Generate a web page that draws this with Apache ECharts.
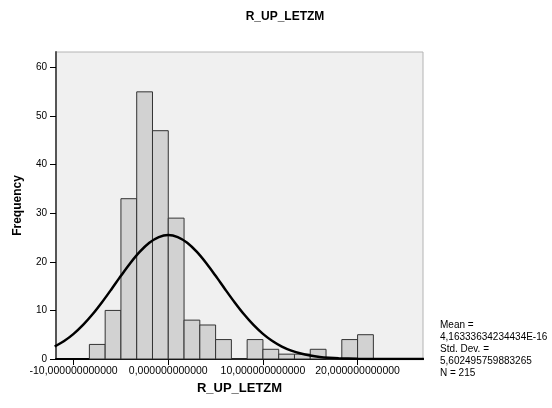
<!DOCTYPE html>
<html>
<head>
<meta charset="utf-8">
<script src="https://cdn.jsdelivr.net/npm/echarts@6/dist/echarts.min.js"></script>
<style>html,body{margin:0;padding:0;background:#fff;}#c{width:552px;height:408px;}</style>
</head>
<body>
<div id="c"></div>
<script>
// Histogram bin edges (left edge of each bin) and bin right edges
var binStarts = [-8.333, -6.667, -5, -3.333, -1.667, 0, 1.667, 3.333, 5, 6.667, 8.333, 10, 11.667, 13.333, 15, 16.667, 18.333, 20];
var binEnds   = [-6.667, -5, -3.333, -1.667, 0, 1.667, 3.333, 5, 6.667, 8.333, 10, 11.667, 13.333, 15, 16.667, 18.333, 20, 21.667];
var counts    = [3, 10, 33, 55, 47, 29, 8, 7, 4, 0, 4, 2, 1, 1, 2, 0, 4, 5];

// Normal curve
var curveX = [-12, -11, -10, -9, -8, -7, -6, -5, -4, -3, -2, -1, 0, 1, 2, 3, 4, 5, 6, 7, 8, 9, 10, 11, 12, 13, 14, 15, 16, 17, 18, 20, 22, 24, 27];
var curveY = [2.57, 3.71, 5.18, 7.02, 9.20, 11.69, 14.37, 17.12, 19.76, 22.09, 23.93, 25.10, 25.52, 25.10, 23.93, 22.09, 19.76, 17.12, 14.37, 11.69, 9.20, 7.02, 5.18, 3.71, 2.57, 1.73, 1.12, 0.71, 0.43, 0.26, 0.15, 0.04, 0.01, 0, 0];

var xTickValues = [-10, 0, 10, 20];
var xTickLabels = ['-10,000000000000', '0,000000000000', '10,000000000000', '20,000000000000'];
var yTickValues = [0, 10, 20, 30, 40, 50, 60];
var yTickLabels = ['0', '10', '20', '30', '40', '50', '60'];

var statsLines = ['Mean =', '4,16333634234434E-16', 'Std. Dev. =', '5,602495759883265', 'N = 215'];

var chart = echarts.init(document.getElementById('c'));

var histData = binStarts.map(function (s, i) { return [s, binEnds[i], counts[i]]; });
var curveData = curveX.map(function (x, i) { return [x, curveY[i]]; });

var FONT = 'Liberation Sans, Arial, sans-serif';

chart.setOption({
  backgroundColor: '#ffffff',
  animation: false,
  title: {
    text: 'R_UP_LETZM',
    left: 280, top: 6, textAlign: 'center',
    textStyle: { fontFamily: FONT, fontSize: 12, fontWeight: 'bold', color: '#000' }
  },
  grid: {
    left: 56, top: 52, right: 129, bottom: 49,
    show: true, backgroundColor: '#f0f0f0', borderColor: '#b4b4b4', borderWidth: 1
  },
  xAxis: {
    type: 'value', min: -11.86, max: 26.91,
    name: 'R_UP_LETZM', nameLocation: 'middle', nameGap: 15,
    nameTextStyle: { fontFamily: FONT, fontSize: 13, fontWeight: 'bold', color: '#000' },
    axisLine: { show: true, onZero: false, lineStyle: { color: '#000', width: 2 } },
    axisTick: { show: true, customValues: xTickValues, length: 6, lineStyle: { color: '#000', width: 1 } },
    axisLabel: {
      customValues: xTickValues, fontFamily: FONT, fontSize: 10.5, color: '#000', margin: 7,
      formatter: function (v) { var i = xTickValues.indexOf(v); return i >= 0 ? xTickLabels[i] : ''; }
    },
    splitLine: { show: false }
  },
  yAxis: {
    type: 'value', min: 0, max: 63.2,
    name: 'Frequency', nameLocation: 'middle', nameGap: 32, nameRotate: 90,
    nameTextStyle: { fontFamily: FONT, fontSize: 12, fontWeight: 'bold', color: '#000' },
    axisLine: { show: true, onZero: false, lineStyle: { color: '#555', width: 2 } },
    axisTick: { show: true, customValues: yTickValues, length: 6, lineStyle: { color: '#000', width: 1 } },
    axisLabel: {
      customValues: yTickValues, fontFamily: FONT, fontSize: 10, color: '#000', margin: 9,
      formatter: function (v) { var i = yTickValues.indexOf(v); return i >= 0 ? yTickLabels[i] : ''; }
    },
    splitLine: { show: false }
  },
  series: [
    {
      type: 'custom',
      data: histData,
      encode: { x: [0, 1], y: 2 },
      renderItem: function (params, api) {
        var p0 = api.coord([api.value(0), 0]);
        var p1 = api.coord([api.value(1), api.value(2)]);
        return {
          type: 'rect',
          shape: { x: p0[0], y: p1[1], width: p1[0] - p0[0], height: p0[1] - p1[1] },
          style: { fill: '#d2d2d2', stroke: '#333', lineWidth: 1 }
        };
      },
      z: 2
    },
    {
      type: 'line',
      data: curveData,
      smooth: 0.3,
      showSymbol: false,
      lineStyle: { color: '#000', width: 2.5 },
      clip: true,
      z: 3
    }
  ],
  graphic: statsLines.map(function (t, i) {
    return {
      type: 'text', left: 440, top: 320 + i * 12,
      style: { text: t, fontFamily: FONT, fontSize: 10, fill: '#000' }
    };
  })
});
</script>
</body>
</html>
